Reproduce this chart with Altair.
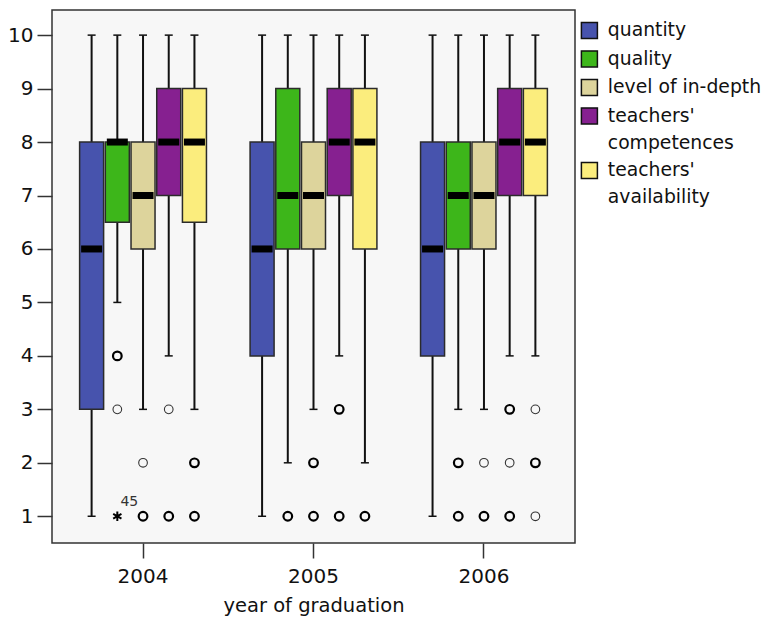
import altair as alt
import pandas as pd

categories = ["quantity", "quality", "level of in-depth",
              "teachers' competences", "teachers' availability"]
colors = ["#4753ad", "#3db61a", "#ddd49c", "#862090", "#fbed7d"]
years = ["2004", "2005", "2006"]

# per year (rows) and per category (columns)
whisker_low = [[1, 5, 3, 4, 3], [1, 2, 3, 4, 2], [1, 3, 3, 4, 4]]
q1 = [[3, 6.5, 6, 7, 6.5], [4, 6, 6, 7, 6], [4, 6, 6, 7, 7]]
medians = [[6, 8, 7, 8, 8], [6, 7, 7, 8, 8], [6, 7, 7, 8, 8]]
q3 = [[8, 8, 8, 9, 9], [8, 9, 8, 9, 9], [8, 8, 8, 9, 9]]
whisker_high = [[10, 10, 10, 10, 10], [10, 10, 10, 10, 10], [10, 10, 10, 10, 10]]

# outliers: year, category index, value, many cases (bold)
out_year = ["2004"] * 8 + ["2005"] * 6 + ["2006"] * 10
out_cat = [1, 1, 2, 2, 3, 3, 4, 4,
           1, 2, 2, 3, 3, 4,
           1, 1, 2, 2, 3, 3, 3, 4, 4, 4]
out_value = [4, 3, 2, 1, 3, 1, 2, 1,
             1, 2, 1, 3, 1, 1,
             2, 1, 2, 1, 3, 2, 1, 3, 2, 1]
out_bold = [1, 0, 0, 1, 0, 1, 1, 1,
            1, 1, 1, 1, 1, 1,
            1, 1, 0, 1, 1, 0, 1, 0, 1, 0]

# extreme value
ext_year = ["2004"]
ext_cat = [1]
ext_value = [1]
ext_label = ["45"]

rows = []
for yi, yr in enumerate(years):
    for ci, cat in enumerate(categories):
        rows.append(dict(year=yr, category=cat, lo=whisker_low[yi][ci], q1=q1[yi][ci],
                         med=medians[yi][ci], q3=q3[yi][ci], hi=whisker_high[yi][ci]))
box_df = pd.DataFrame(rows)
out_df = pd.DataFrame(dict(year=out_year, category=[categories[i] for i in out_cat],
                           value=out_value, bold=out_bold))
ext_df = pd.DataFrame(dict(year=ext_year, category=[categories[i] for i in ext_cat],
                           value=ext_value, label=ext_label))

FONT = "DejaVu Sans"

x_enc = alt.X("year:N", sort=years,
              scale=alt.Scale(domain=years, paddingInner=0.246, paddingOuter=0.157),
              axis=alt.Axis(title="year of graduation", labelAngle=0, tickSize=15,
                            tickColor="#333", tickWidth=1.5, domain=False,
                            labelFontSize=20, labelPadding=8, labelColor="#111",
                            titleFontSize=19.5, titleFontWeight="normal",
                            titleColor="#111", titlePadding=10))
xo_enc = alt.XOffset("category:N", sort=categories,
                     scale=alt.Scale(domain=categories, paddingInner=0.066, paddingOuter=0.033))
y_scale = alt.Scale(domain=[0.5, 10.47], nice=False, zero=False)
y_axis = alt.Axis(values=list(range(1, 11)), grid=False, tickSize=15, tickColor="#333",
                  tickWidth=1.5, domain=False, labelFontSize=20, labelPadding=4,
                  labelColor="#111", title=None)

base = alt.Chart(box_df).encode(x=x_enc, xOffset=xo_enc)

whiskers = base.mark_rule(color="#111", strokeWidth=2, opacity=1).encode(
    y=alt.Y("lo:Q", scale=y_scale, axis=y_axis), y2="hi:Q")
cap_lo = base.mark_tick(color="#111", size=8, thickness=1.5, opacity=1).encode(y="lo:Q")
cap_hi = base.mark_tick(color="#111", size=8, thickness=1.5, opacity=1).encode(y="hi:Q")

boxes = base.mark_bar(stroke="#2b2b2b", strokeWidth=1.5, opacity=1).encode(
    y="q1:Q", y2="q3:Q",
    color=alt.Color("category:N", sort=categories,
                    scale=alt.Scale(domain=categories, range=colors),
                    legend=alt.Legend(
                        title=None, orient="none", legendX=528, legendY=11,
                        symbolType="square", symbolSize=256,
                        symbolStrokeColor="#111", symbolStrokeWidth=1.5,
                        symbolOpacity=1,
                        labelFontSize=18.8, labelLimit=400, labelColor="#111",
                        labelOffset=9, rowPadding=5.5,
                        labelExpr="indexof(datum.label, 'teachers') === 0 ? split(datum.label, ' ') : datum.label")))

med = base.mark_tick(color="black", size=21, thickness=7, opacity=1).encode(y="med:Q")

obase = alt.Chart(out_df).encode(x=x_enc, xOffset=xo_enc, y="value:Q")
out_bold_l = obase.transform_filter("datum.bold == 1").mark_point(
    shape="circle", filled=False, size=75, color="black", strokeWidth=2.2, opacity=1)
out_thin_l = obase.transform_filter("datum.bold == 0").mark_point(
    shape="circle", filled=False, size=75, color="#333", strokeWidth=1.1, opacity=1)

ebase = alt.Chart(ext_df).encode(x=x_enc, xOffset=xo_enc, y="value:Q")
star = ebase.mark_point(
    shape="M0,-1L0,1M-0.87,-0.5L0.87,0.5M-0.87,0.5L0.87,-0.5",
    filled=False, size=90, color="black", strokeWidth=2, opacity=1)
star_lbl = ebase.mark_text(dx=12, dy=-14, fontSize=14, color="#333", font=FONT).encode(text="label:N")

chart = alt.layer(whiskers, cap_lo, cap_hi, boxes, med, out_thin_l, out_bold_l, star, star_lbl).properties(
    width=523, height=533,
    autosize=alt.AutoSizeParams(type="none"),
    padding={"left": 44, "top": 2, "right": 192, "bottom": 75},
).configure(
    font=FONT,
    style={"guide-label": {"lineHeight": 27}},
    view=alt.ViewConfig(stroke="#333", strokeWidth=1.5, fill="#f7f7f7"),
)

chart.save("out.html", embed_options={"renderer": "svg", "actions": False})
